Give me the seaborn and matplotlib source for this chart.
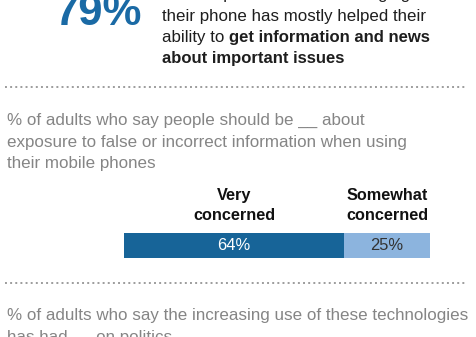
import matplotlib
matplotlib.use("Agg")
import matplotlib.pyplot as plt
from matplotlib.lines import Line2D
import seaborn as sns
import pandas as pd

W, H = 476, 337

# ---- data ----
categories = ["Very\nconcerned", "Somewhat\nconcerned"]
values = [64, 25]
bar_labels = ["64%", "25%"]
headline_value = "79%"
bar_colors = ["#176498", "#8cb4de"]
label_colors = ["white", "#333333"]

sns.set_theme(style="white")
plt.rcParams['font.family'] = ['Liberation Sans', 'DejaVu Sans']
plt.rcParams['lines.scale_dashes'] = False

fig = plt.figure(figsize=(W / 100, H / 100), dpi=100)
fig.patch.set_facecolor("white")


def fx(x):
    return x / W


def fy(y):
    return 1 - y / H


def txt(x, y, s, **kw):
    return fig.text(fx(x), fy(y), s, va="baseline", **kw)


# headline number
txt(141, 25, headline_value, ha="right", fontsize=31.5, fontweight="bold", color="#1a6aa5")

body = dict(fontsize=12.2, color="#1e1e1e")
txt(162, -0.8, "of smartphone users in emerging economies say", **body)
txt(162, 20.5, "their phone has mostly helped their", **body)

renderer = fig.canvas.get_renderer()
t = txt(162, 42, "ability to ", **body)
bb = t.get_window_extent(renderer)
txt(bb.x1, 42, "get information and news", fontweight="bold", fontsize=12.0, color="#1e1e1e")
txt(162, 63.3, "about important issues", fontweight="bold", fontsize=12.0, color="#1e1e1e")


def dotted(y):
    fig.add_artist(Line2D([fx(5), fx(467)], [fy(y), fy(y)], transform=fig.transFigure,
                          color="#9c9c9c", lw=1.4, linestyle=(0, (1.4, 2.3))))


dotted(87)
dotted(283)

gray = dict(fontsize=12.25, color="#858585")
txt(7, 125, "% of adults who say people should be __ about", **gray)
txt(7, 146.7, "exposure to false or incorrect information when using", **gray)
txt(7, 168.4, "their mobile phones", **gray)
txt(7, 320, "% of adults who say the increasing use of these technologies", **gray)
txt(7, 341.7, "has had __ on politics", **gray)

# ---- stacked bar ----
df = pd.DataFrame({"cat": categories, "value": values, "label": bar_labels,
                   "color": bar_colors, "lcolor": label_colors})
df["cum"] = df["value"].cumsum()
df["mid"] = df["cum"] - df["value"] / 2
df["row"] = "all"

ax = fig.add_axes([fx(124), fy(258), fx(430) - fx(124), 25 / H])
sns.barplot(data=df.iloc[::-1], x="cum", y="row", hue="cat", hue_order=categories[::-1],
            palette=dict(zip(categories, bar_colors)), dodge=False, width=1.0,
            saturation=1, linewidth=0, orient="h", legend=False, ax=ax)
ax.set_xlim(0, df["cum"].max())
ax.set_ylim(0.5, -0.5)
ax.axis("off")

for _, r in df.iterrows():
    ax.text(r["mid"], 0.02, r["label"], ha="center", va="center", fontsize=11.9,
            color=r["lcolor"])
    first, second = r["cat"].split("\n")
    ax.annotate(first, xy=(r["mid"], H - 200), xycoords=("data", "figure pixels"),
                ha="center", va="baseline", fontsize=11.7, fontweight="bold", color="#111111",
                annotation_clip=False)
    ax.annotate(second, xy=(r["mid"], H - 220.5), xycoords=("data", "figure pixels"),
                ha="center", va="baseline", fontsize=11.7, fontweight="bold", color="#111111",
                annotation_clip=False)

fig.savefig("out.png", dpi=100, facecolor="white")
